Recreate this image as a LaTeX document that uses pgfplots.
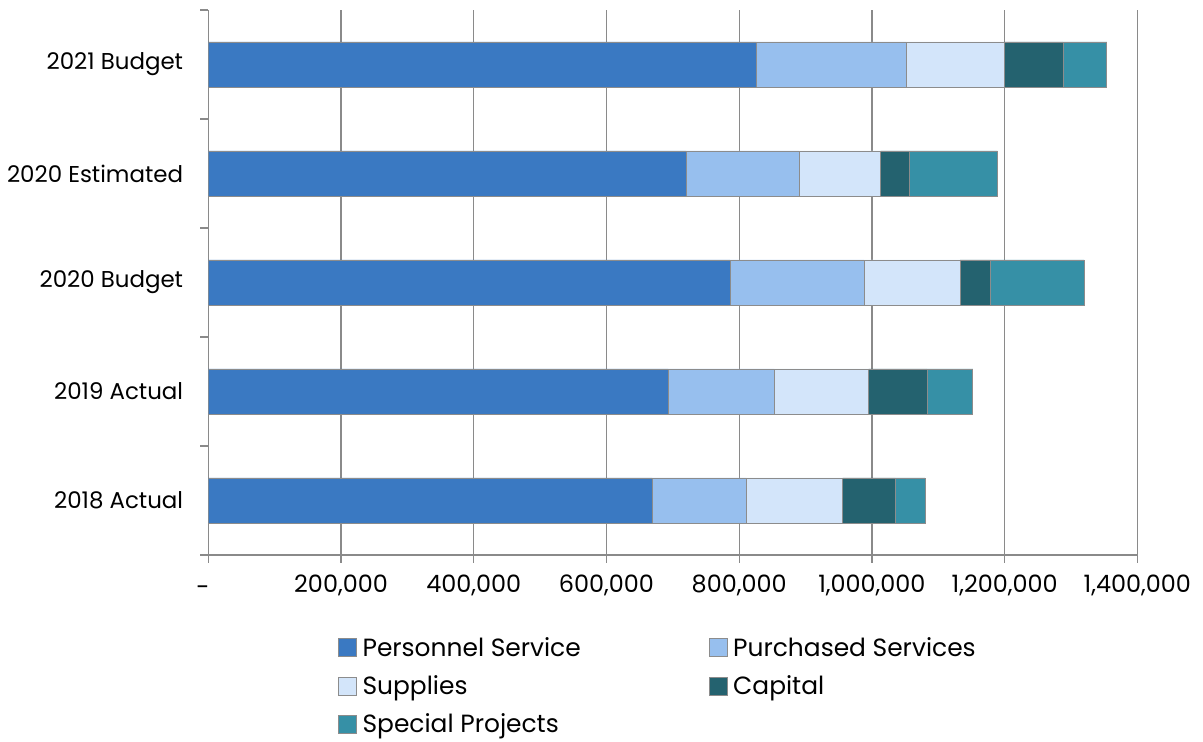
\documentclass[border=0pt]{standalone}
\usepackage{fontspec}
\setmainfont{Poppins}
\usepackage{pgfplots}
\pgfplotsset{compat=1.18}
\definecolor{cPers}{HTML}{3A79C2}
\definecolor{cPurc}{HTML}{97BFEE}
\definecolor{cSupp}{HTML}{D3E5FA}
\definecolor{cCap}{HTML}{24626F}
\definecolor{cSpec}{HTML}{3690A6}
\definecolor{gridc}{HTML}{8A8A8A}
\begin{document}
\begin{tikzpicture}[x=1bp,y=1bp]
\useasboundingbox (0,0) rectangle (1203,742);
\begin{axis}[
  at={(208.3bp,187bp)}, anchor=south west,
  width=929bp, height=545bp, scale only axis,
  xbar stacked, bar width=45bp,
  xmin=0, xmax=1400000, ymin=-0.5, ymax=4.5,
  axis x line*=bottom, axis y line*=left,
  axis line style={draw=gridc, line width=1.3bp},
  xtick={0,200000,400000,600000,800000,1000000,1200000,1400000},
  xticklabels={\makebox[24bp][l]{\rule{0pt}{17bp}\raisebox{-4bp}{-}},200{,}000,400{,}000,600{,}000,800{,}000,1{,}000{,}000,1{,}200{,}000,1{,}400{,}000},
  scaled x ticks=false,
  xmajorgrids, major grid style={draw=gridc, line width=1.3bp},
  tick align=outside, major tick length=8bp,
  tick style={draw=gridc, line width=1.3bp},
  ytick={-0.5,0.5,1.5,2.5,3.5,4.5}, yticklabels={},
  extra y ticks={0,1,2,3,4},
  extra y tick labels={2018 Actual,2019 Actual,2020 Budget,2020 Estimated,2021 Budget},
  extra y tick style={tick style={draw=none}, grid=none},
  yticklabel style={font=\fontsize{23}{26}\selectfont, text=black, inner sep=0pt, xshift=-17bp},
  xticklabel style={font=\fontsize{24}{28}\selectfont, text=black, yshift=-8bp},
  legend columns=2,
  legend cell align=left,
  legend style={at={(axis description cs:0.1396,-0.1525)}, anchor=north west,
    draw=none, fill=none, inner sep=0pt, row sep=14bp,
    nodes={inner sep=0pt, text height=18bp, text depth=6bp},
    font=\fontsize{25}{30}\selectfont,
    /tikz/every odd column/.append style={column sep=6bp},
    /tikz/every even column/.append style={column sep=128bp}},
  legend image code/.code={\draw[#1,line width=0.4bp] (0bp,-6bp) rectangle (18bp,12bp);},
  every axis plot/.append style={draw=black!45, line width=0.6bp},
]
\addplot[fill=cPers] coordinates {(669000,0) (693000,1) (786000,2) (720000,3) (826000,4)};
\addplot[fill=cPurc] coordinates {(142000,0) (160000,1) (202000,2) (170000,3) (226000,4)};
\addplot[fill=cSupp] coordinates {(145000,0) (142000,1) (145000,2) (123000,3) (147000,4)};
\addplot[fill=cCap] coordinates {(79000,0) (88000,1) (45000,2) (43000,3) (89000,4)};
\addplot[fill=cSpec] coordinates {(45000,0) (69000,1) (142000,2) (133000,3) (66000,4)};
\legend{Personnel Service,Purchased Services,Supplies,Capital,Special Projects}
\end{axis}
\end{tikzpicture}
\end{document}
